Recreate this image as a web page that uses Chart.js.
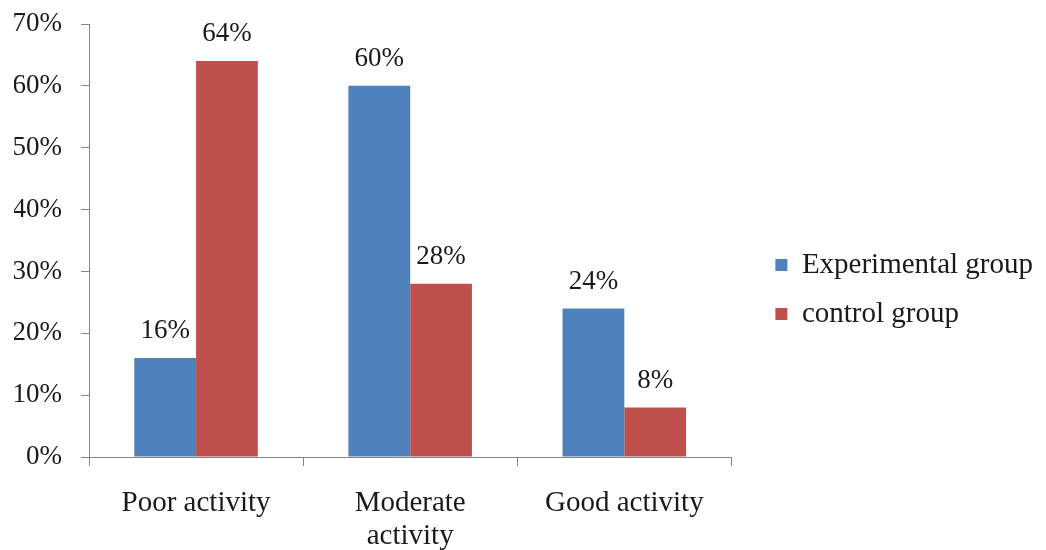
<!DOCTYPE html>
<html>
<head>
<meta charset="utf-8">
<script src="https://cdn.jsdelivr.net/npm/chart.js@4/dist/chart.umd.min.js"></script>
<style>
  html, body { margin: 0; padding: 0; background: #ffffff; }
  #wrap { width: 1046px; height: 550px; position: relative; }
</style>
</head>
<body>
<div id="wrap"><canvas id="chart"></canvas></div>
<script>
// Activity levels by group (percent of participants)
const categories = [['Poor activity'], ['Moderate', 'activity'], ['Good activity']];
const seriesNames = ['Experimental group', 'control group'];
const experimentalValues = [16, 60, 24];
const controlValues = [64, 28, 8];
const yTicks = [0, 10, 20, 30, 40, 50, 60, 70];

const FONT = '"Liberation Serif", "Times New Roman", serif';
const TEXT = '#1a1a1a';
const AXIS = '#868686';

// Writes each bar's value above it, using the bar element positions
const valueLabels = {
  id: 'valueLabels',
  afterDatasetsDraw(chart) {
    const ctx = chart.ctx;
    ctx.save();
    ctx.font = '27px ' + FONT;
    ctx.fillStyle = TEXT;
    ctx.textAlign = 'center';
    ctx.textBaseline = 'middle';
    chart.data.datasets.forEach((ds, i) => {
      chart.getDatasetMeta(i).data.forEach((bar, j) => {
        ctx.fillText(ds.data[j] + '%', bar.x, bar.y - 27);
      });
    });
    ctx.restore();
  }
};

new Chart(document.getElementById('chart'), {
  type: 'bar',
  data: {
    labels: categories,
    datasets: [
      { label: seriesNames[0], data: experimentalValues, backgroundColor: '#4f81bd' },
      { label: seriesNames[1], data: controlValues, backgroundColor: '#c0504d' }
    ]
  },
  options: {
    responsive: true,
    maintainAspectRatio: false,
    animation: false,
    devicePixelRatio: 1,
    layout: { padding: { top: 24, left: 14, right: 3, bottom: 0 } },
    datasets: {
      bar: { categoryPercentage: 0.577, barPercentage: 1.0 }
    },
    plugins: {
      tooltip: { enabled: false },
      legend: {
        position: 'right',
        maxWidth: 340,
        title: {
          display: true,
          text: ' ',
          font: { size: 5, lineHeight: 1 },
          padding: 0
        },
        labels: {
          font: { family: FONT, size: 29 },
          color: TEXT,
          boxWidth: 12,
          boxHeight: 12,
          padding: 20
        }
      }
    },
    scales: {
      x: {
        grid: {
          offset: true,
          drawOnChartArea: false,
          drawTicks: true,
          tickLength: 9,
          color: AXIS
        },
        border: { color: AXIS, width: 1 },
        ticks: {
          font: { family: FONT, size: 29, lineHeight: 1.14 },
          color: TEXT,
          padding: 21,
          maxRotation: 0,
          autoSkip: false
        },
        afterFit(axis) { axis.height = 93; }
      },
      y: {
        min: 0,
        max: 70,
        afterBuildTicks(axis) { axis.ticks = yTicks.map(v => ({ value: v })); },
        grid: {
          drawOnChartArea: false,
          drawTicks: true,
          tickLength: 8,
          color: AXIS
        },
        border: { color: AXIS, width: 1 },
        ticks: {
          font: { family: FONT, size: 27 },
          color: TEXT,
          padding: 19,
          callback: v => v + '%'
        },
        afterFit(axis) {
          axis.width = 75;
          axis.paddingTop = 0;
          axis.paddingBottom = 0;
        }
      },
      // empty right-hand axis that only reserves the gap before the legend
      gap: {
        position: 'right',
        display: true,
        grid: { display: false, drawTicks: false },
        border: { display: false },
        ticks: { display: false },
        afterFit(axis) { axis.width = 24; }
      }
    }
  },
  plugins: [valueLabels]
});
</script>
</body>
</html>
